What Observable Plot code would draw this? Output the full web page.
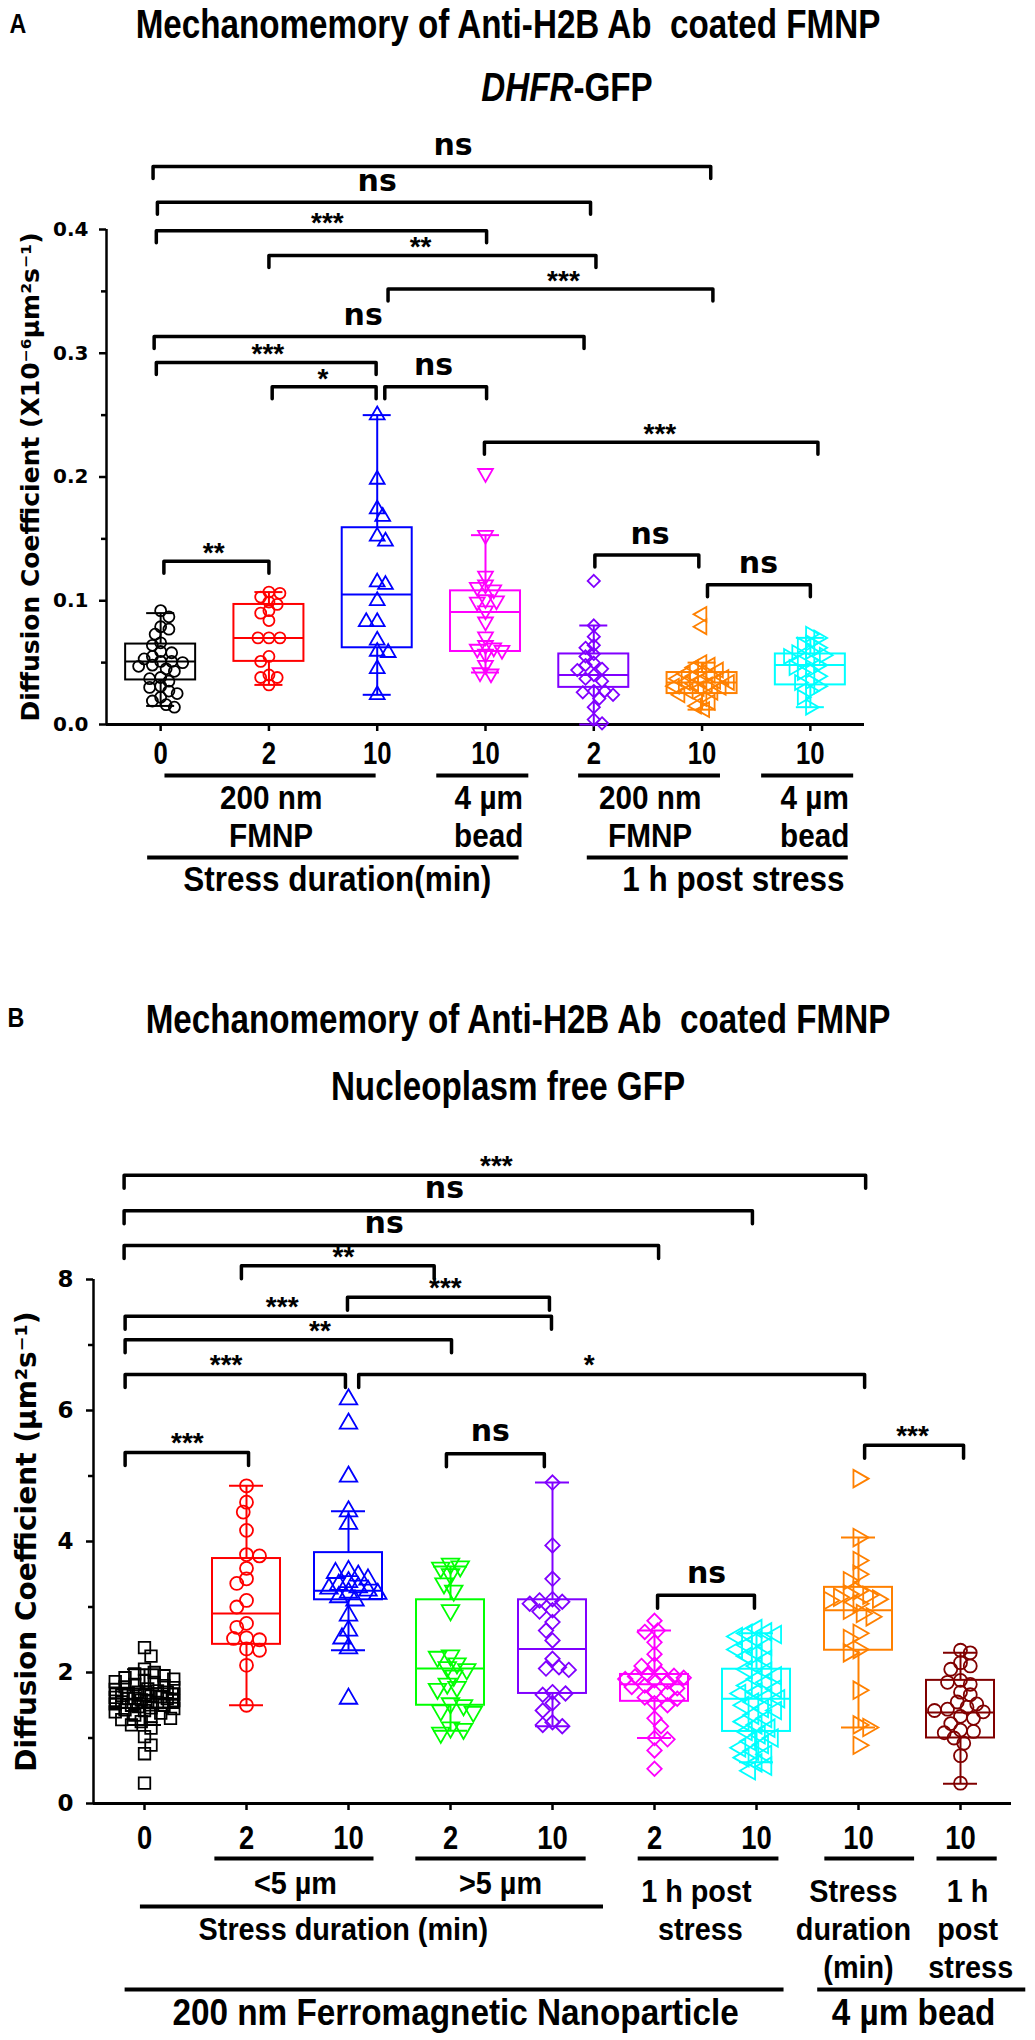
<!DOCTYPE html>
<html><head><meta charset="utf-8">
<script src="https://cdn.jsdelivr.net/npm/d3@7"></script>
<script src="https://cdn.jsdelivr.net/npm/@observablehq/plot@0.6"></script>
<style>
body{margin:0;background:#fff;}
#page{position:relative;width:1035px;height:2040px;overflow:hidden;font-family:"Liberation Sans",Arial,sans-serif;font-weight:bold;color:#000;}
.t{position:absolute;white-space:nowrap;line-height:1;transform:translate(-50%,-50%) scaleX(0.83);}
.panel{position:absolute;left:0;}
.panel svg{display:block;}
</style></head><body><div id="page"></div>
<script>
// ---------------- Panel A data ----------------
const catsA = ["0","2","10","10","2","10","10"];
const colorsA = ["#000000","#ff0000","#0000ff","#ff00ff","#8000ff","#ff8000","#00ffff"];
const symbolsA = ["circle","circle","triangle","triangle","diamond2","triangle","triangle"];
const rotateA = [0,0,0,180,0,-90,90];
const pointsA = [
  [0.092,0.087,0.079,0.077,0.073,0.066,0.064,0.059,0.058,0.055,0.053,0.051,0.051,0.050,0.048,0.047,0.045,0.043,0.038,0.037,0.035,0.031,0.030,0.027,0.025,0.022,0.019,0.016,0.014],
  [0.107,0.106,0.103,0.099,0.097,0.092,0.090,0.084,0.070,0.070,0.070,0.055,0.051,0.040,0.038,0.038,0.032],
  [0.250,0.198,0.174,0.168,0.152,0.148,0.115,0.113,0.100,0.083,0.083,0.068,0.059,0.058,0.045,0.024],
  [0.203,0.153,0.120,0.113,0.111,0.109,0.101,0.100,0.099,0.092,0.083,0.071,0.064,0.062,0.061,0.060,0.057,0.048,0.042,0.041],
  [0.116,0.080,0.071,0.064,0.062,0.057,0.055,0.050,0.048,0.045,0.044,0.040,0.037,0.035,0.027,0.027,0.026,0.024,0.021,0.014,0.004,0.001],
  [0.089,0.079,0.050,0.048,0.046,0.044,0.042,0.041,0.040,0.039,0.038,0.037,0.036,0.035,0.034,0.034,0.033,0.032,0.031,0.030,0.029,0.027,0.026,0.024,0.021,0.018,0.015,0.012],
  [0.073,0.070,0.066,0.064,0.062,0.059,0.058,0.056,0.055,0.052,0.050,0.048,0.046,0.044,0.042,0.039,0.035,0.034,0.031,0.027,0.022,0.014]
];
const q1A  = [0.036,0.051,0.062,0.059,0.030,0.025,0.032];
const medA = [0.051,0.070,0.105,0.091,0.040,0.034,0.048];
const q3A  = [0.065,0.097,0.159,0.108,0.057,0.042,0.057];
const loA  = [0.015,0.032,0.024,0.042,0.000,0.012,0.014];
const hiA  = [0.090,0.107,0.250,0.153,0.080,0.050,0.070];
const yTicksA = [0,0.1,0.2,0.3,0.4];
const yMinorA = [0.05,0.15,0.25,0.35];
const bracketsA = [
  {x1:-0.07,x2:5.08,y:0.451,label:"ns",lx:2.70},
  {x1:-0.03,x2:3.97,y:0.422,label:"ns",lx:2.00},
  {x1:-0.04,x2:3.01,y:0.399,label:"***",lx:1.54},
  {x1:1.00,x2:4.02,y:0.379,label:"**",lx:2.40},
  {x1:2.10,x2:5.10,y:0.352,label:"***",lx:3.72},
  {x1:-0.06,x2:3.91,y:0.3135,label:"ns",lx:1.87},
  {x1:-0.04,x2:1.99,y:0.2925,label:"***",lx:0.99},
  {x1:1.03,x2:1.99,y:0.273,label:"*",lx:1.50},
  {x1:2.07,x2:3.01,y:0.273,label:"ns",lx:2.52},
  {x1:2.99,x2:6.07,y:0.228,label:"***",lx:4.61},
  {x1:0.03,x2:1.00,y:0.132,label:"**",lx:0.49},
  {x1:4.01,x2:4.97,y:0.137,label:"ns",lx:4.52},
  {x1:5.05,x2:6.00,y:0.113,label:"ns",lx:5.52}
];
const groupLinesA = [
  {x1:0.04,x2:1.99,row:0},{x1:2.55,x2:3.40,row:0},{x1:3.86,x2:5.17,row:0},{x1:5.55,x2:6.40,row:0},
  {x1:-0.12,x2:3.31,row:1},{x1:3.94,x2:6.35,row:1}
];
const groupTextsA = [
  {x:1.02,row:0,text:"200 nm"},{x:1.02,row:1,text:"FMNP"},
  {x:3.03,row:0,text:"4 µm"},{x:3.03,row:1,text:"bead"},
  {x:4.52,row:0,text:"200 nm"},{x:4.52,row:1,text:"FMNP"},
  {x:6.04,row:0,text:"4 µm"},{x:6.04,row:1,text:"bead"},
  {x:1.63,row:2,text:"Stress duration(min)"},{x:5.29,row:2,text:"1 h post stress"}
];

// ---------------- Panel B data ----------------
const catsB = ["0","2","10","2","10","2","10","10","10"];
const colorsB = ["#000000","#ff0000","#0000ff","#00ff00","#8000ff","#ff00ff","#00ffff","#ff8000","#800000"];
const symbolsB = ["square","circle","triangle","triangle","diamond2","diamond2","triangle","triangle","circle"];
const rotateB = [0,0,0,180,0,0,-90,90,0];
const pointsB = [
  [2.38,2.25,2.05,2.0,1.98,1.95,1.92,1.9,1.88,1.86,1.85,1.82,1.8,1.78,1.77,1.75,1.74,1.72,1.7,1.7,1.68,1.67,1.66,1.65,1.64,1.63,1.62,1.61,1.6,1.6,1.58,1.57,1.56,1.55,1.54,1.52,1.5,1.5,1.48,1.46,1.45,1.43,1.42,1.4,1.38,1.35,1.33,1.3,1.28,1.25,1.2,1.15,1.02,0.89,0.76,0.31],
  [4.85,4.6,4.45,4.17,3.8,3.78,3.59,3.43,3.36,3.1,3.0,2.75,2.69,2.53,2.52,2.5,2.36,2.34,2.11,1.5],
  [6.17,5.8,4.99,4.46,4.27,3.55,3.52,3.48,3.42,3.38,3.34,3.3,3.28,3.25,3.22,3.2,3.15,3.1,2.87,2.64,2.52,2.37,1.6],
  [3.66,3.62,3.6,3.5,3.36,3.25,2.95,2.26,2.24,2.14,2.08,2.05,1.95,1.83,1.78,1.75,1.53,1.5,1.42,1.4,1.16,1.14,1.08],
  [4.9,3.94,3.43,3.12,3.1,3.08,3.05,2.95,2.93,2.77,2.64,2.49,2.21,2.08,2.06,2.04,1.7,1.68,1.66,1.53,1.42,1.24,1.2,1.18],
  [2.79,2.64,2.62,2.46,2.28,2.12,2.1,1.98,1.96,1.95,1.94,1.92,1.9,1.88,1.86,1.8,1.78,1.76,1.7,1.69,1.62,1.6,1.53,1.5,1.3,1.18,1.0,0.98,0.81,0.53],
  [2.67,2.62,2.6,2.58,2.55,2.5,2.42,2.4,2.35,2.3,2.25,2.2,2.1,2.05,2.02,1.95,1.9,1.85,1.8,1.75,1.7,1.68,1.62,1.6,1.55,1.5,1.45,1.42,1.35,1.3,1.25,1.2,1.15,1.1,1.05,1.0,0.95,0.9,0.85,0.8,0.75,0.7,0.62,0.57,0.5],
  [4.96,4.06,3.71,3.5,3.4,3.25,3.2,3.18,3.15,3.12,3.1,3.05,2.95,2.9,2.85,2.6,2.52,2.35,2.3,1.73,1.2,1.16,0.89],
  [2.34,2.3,2.15,2.1,2.05,1.88,1.85,1.82,1.7,1.66,1.55,1.52,1.47,1.44,1.42,1.4,1.33,1.3,1.22,1.12,1.1,1.08,1.0,0.92,0.73,0.31]
];
const q1B  = [1.45,2.43,3.11,1.50,1.68,1.56,1.10,2.34,1.00];
const medB = [1.60,2.90,3.25,2.06,2.36,1.82,1.60,2.95,1.39];
const q3B  = [1.75,3.74,3.83,3.11,3.11,1.97,2.05,3.30,1.88];
const loB  = [1.20,1.50,2.34,1.11,1.18,1.00,0.63,1.16,0.30];
const hiB  = [2.05,4.85,4.46,3.62,4.90,2.64,2.60,4.06,2.30];
const yTicksB = [0,2,4,6,8];
const yMinorB = [1,3,5,7];
const bracketsB = [
  {x1:-0.20,x2:7.07,y:9.59,label:"***",lx:3.45},
  {x1:-0.20,x2:5.96,y:9.05,label:"ns",lx:2.94},
  {x1:-0.20,x2:5.04,y:8.52,label:"ns",lx:2.35},
  {x1:0.95,x2:2.84,y:8.21,label:"**",lx:1.95},
  {x1:1.99,x2:3.97,y:7.73,label:"***",lx:2.95},
  {x1:-0.19,x2:3.99,y:7.44,label:"***",lx:1.35},
  {x1:-0.19,x2:3.01,y:7.08,label:"**",lx:1.72},
  {x1:-0.19,x2:1.97,y:6.55,label:"***",lx:0.80},
  {x1:2.10,x2:7.06,y:6.55,label:"*",lx:4.36},
  {x1:-0.19,x2:1.02,y:5.36,label:"***",lx:0.42},
  {x1:2.96,x2:3.92,y:5.34,label:"ns",lx:3.39},
  {x1:5.03,x2:5.98,y:3.18,label:"ns",lx:5.51},
  {x1:7.06,x2:8.03,y:5.47,label:"***",lx:7.53}
];
const groupLinesB = [
  {x1:0.69,x2:2.25,row:0},{x1:2.66,x2:4.33,row:0},{x1:4.84,x2:6.22,row:0},{x1:6.67,x2:7.55,row:0},{x1:7.77,x2:8.36,row:0},
  {x1:-0.04,x2:4.50,row:1},
  {x1:-0.19,x2:6.27,row:2},{x1:6.60,x2:8.64,row:2}
];
const groupTextsB = [
  {x:1.48,row:0,text:"<5 µm"},{x:3.49,row:0,text:">5 µm"},
  {x:5.41,row:1,text:"1 h post"},{x:5.45,row:2,text:"stress"},
  {x:6.95,row:1,text:"Stress"},{x:6.95,row:2,text:"duration"},{x:7.0,row:3,text:"(min)"},
  {x:8.07,row:1,text:"1 h"},{x:8.07,row:2,text:"post"},{x:8.1,row:3,text:"stress"},
  {x:1.95,row:2,text:"Stress duration (min)"},
  {x:3.05,row:4,text:"200 nm Ferromagnetic Nanoparticle",big:true},{x:7.54,row:4,text:"4 µm bead",big:true}
];

// ---------------- helpers ----------------
const NARROW = "Liberation Sans";            // tick labels, condensed 0.83
const NARROW2 = "Liberation Sans, sans-serif"; // group labels, condensed 0.90
function swarm(values, ppuX, ppuY, r, maxOff) {
  const placed = [], offs = [];
  values.forEach((v, k) => {
    const py = v * ppuY, minD = r * 1.55;
    let best = 0, bestScore = -Infinity;
    const dir = k % 2 ? 1 : -1;
    for (let s = 0; s <= 40; s++) {
      const off = dir * (s % 2 ? 1 : -1) * Math.ceil(s / 2) * r * 0.5;
      if (Math.abs(off) > maxOff) continue;
      let dmin = Infinity;
      for (const p of placed) dmin = Math.min(dmin, Math.hypot(p.x - off, p.y - py));
      if (dmin >= minD) { best = off; break; }
      if (dmin > bestScore) { bestScore = dmin; best = off; }
    }
    placed.push({x: best, y: py});
    offs.push(best / ppuX);
  });
  return offs;
}

function buildPanel(P) {
  const n = P.cats.length;
  const ppuX = (P.width - P.marginLeft - P.marginRight) / n;
  const height = P.marginTop + P.yMax * P.ppuY + P.marginBottom;
  const marks = [];
  const bw = P.boxHalf / ppuX, cw = P.capHalf / ppuX;
  const yTop = d3.max(P.yTicks);
  marks.push(Plot.ruleX([-0.5], {y1: 0, y2: yTop, strokeWidth: 2.5}));
  marks.push(Plot.ruleY([0], {x1: -0.5, x2: n - 0.5, strokeWidth: 3}));
  marks.push(Plot.axisY(P.yTicks, {tickFormat: P.yFmt, tickSize: 7, tickPadding: P.yPad, fontSize: P.yFont, fontFamily: "DejaVu Sans", fontWeight: "bold", strokeWidth: 2.5, label: null}));
  marks.push(Plot.axisY(P.yMinor, {tickFormat: () => "", tickSize: 5, strokeWidth: 2.5, label: null}));
  marks.push(Plot.axisX(d3.range(n), {tickFormat: i => P.cats[i], tickSize: 7, tickPadding: P.xPad, fontSize: P.xFont, fontFamily: NARROW, fontWeight: "bold", strokeWidth: 2.5, label: null}));
  marks.push(Plot.text([P.yLabel], {x: () => -0.5, y: () => (P.yTicks[0] + yTop) / 2, text: d => d, rotate: -90, dx: P.yLabelDx, fontSize: P.yLabelFont, fontFamily: "DejaVu Sans", fontWeight: "bold"}));
  P.cats.forEach((c, i) => {
    const col = P.colors[i];
    const box = [{i, q1: P.q1[i], med: P.med[i], q3: P.q3[i], lo: P.lo[i], hi: P.hi[i]}];
    marks.push(Plot.ruleX(box, {x: "i", y1: "q3", y2: "hi", stroke: col, strokeWidth: 2}));
    marks.push(Plot.ruleX(box, {x: "i", y1: "lo", y2: "q1", stroke: col, strokeWidth: 2}));
    marks.push(Plot.ruleY(box, {y: "hi", x1: d => d.i - cw, x2: d => d.i + cw, stroke: col, strokeWidth: 2}));
    marks.push(Plot.ruleY(box, {y: "lo", x1: d => d.i - cw, x2: d => d.i + cw, stroke: col, strokeWidth: 2}));
    marks.push(Plot.rect(box, {x1: d => d.i - bw, x2: d => d.i + bw, y1: "q1", y2: "q3", fill: "none", stroke: col, strokeWidth: 2}));
    marks.push(Plot.ruleY(box, {y: "med", x1: d => d.i - bw, x2: d => d.i + bw, stroke: col, strokeWidth: 2}));
    const vals = P.points[i];
    const offs = swarm(vals, ppuX, P.ppuY, P.r, P.maxOff);
    const pts = vals.map((v, k) => ({x: i + offs[k], y: v}));
    marks.push(Plot.dot(pts, {x: "x", y: "y", r: P.r, symbol: P.symbols[i], rotate: P.rotates[i], stroke: col, fill: "none", strokeWidth: 1.8}));
  });
  const drop = P.drop / P.ppuY;
  const path = [];
  P.brackets.forEach((b, k) => {
    path.push({id: k, x: b.x1, y: b.y - drop}, {id: k, x: b.x1, y: b.y}, {id: k, x: b.x2, y: b.y}, {id: k, x: b.x2, y: b.y - drop});
  });
  marks.push(Plot.line(path, {x: "x", y: "y", z: "id", stroke: "black", strokeWidth: 3.5, strokeLinecap: "round", strokeLinejoin: "round"}));
  marks.push(Plot.text(P.brackets.filter(b => b.label === "ns"), {x: "lx", y: "y", text: "label", dy: P.nsDy, fontSize: P.nsFont, fontFamily: "DejaVu Sans", fontWeight: "bold"}));
  marks.push(Plot.text(P.brackets.filter(b => b.label !== "ns"), {x: "lx", y: "y", text: "label", lineAnchor: "top", dy: P.starDy, fontSize: P.starFont, fontWeight: "bold"}));
  P.groupLines.forEach(g => {
    marks.push(Plot.ruleY([g], {y: () => 0, x1: "x1", x2: "x2", dy: P.lineDy[g.row], strokeWidth: 4}));
  });
  P.groupTexts.forEach(g => {
    marks.push(Plot.text([g], {x: "x", y: () => 0, text: "text", dy: P.textDy[g.row], fontSize: g.big ? P.bigFont : (g.row === 2 && P.row2Font ? P.row2Font : P.groupFont), fontFamily: NARROW2, fontWeight: "bold"}));
  });
  const svg = Plot.plot({
    width: P.width, height,
    marginTop: P.marginTop, marginBottom: P.marginBottom, marginLeft: P.marginLeft, marginRight: P.marginRight,
    x: {domain: [-0.5, n - 0.5]},
    y: {domain: [0, P.yMax]},
    style: {fontFamily: "Liberation Sans, Arial, sans-serif", background: "transparent", color: "black"},
    marks
  });
  svg.style.fontWeight = "bold";
  return svg;
}

// condense the narrow-looking texts (after the svg is in the document so lengths can be measured)
function condense(svg) {
  [[NARROW, 0.83], [NARROW2, 0.90]].forEach(([fam, k]) => {
    svg.querySelectorAll('g[font-family="' + fam + '"] text').forEach(t => {
      const w = t.getComputedTextLength();
      if (w > 0) {
        t.setAttribute("textLength", (w * k).toFixed(1));
        t.setAttribute("lengthAdjust", "spacingAndGlyphs");
      }
    });
  });
}

const page = document.getElementById("page");
function addText(html, x, y, size) {
  const d = document.createElement("div");
  d.className = "t";
  d.style.left = x + "px"; d.style.top = y + "px"; d.style.fontSize = size + "px";
  d.innerHTML = html;
  page.appendChild(d);
}
addText("A", 18, 24, 28);
addText("Mechanomemory of Anti-H2B Ab&nbsp; coated FMNP", 508, 24, 40);
addText("<i>DHFR</i>-GFP", 567, 87, 40);
addText("B", 16, 1018, 28);
addText("Mechanomemory of Anti-H2B Ab&nbsp; coated FMNP", 518, 1019, 40);
addText("Nucleoplasm free GFP", 508, 1086, 40);

const divA = document.createElement("div"); divA.className = "panel"; divA.style.top = "100px";
const svgA = buildPanel({
  cats: catsA, colors: colorsA, symbols: symbolsA, rotates: rotateA, points: pointsA,
  q1: q1A, med: medA, q3: q3A, lo: loA, hi: hiA, yTicks: yTicksA, yMinor: yMinorA, yFmt: d3.format(".1f"),
  brackets: bracketsA, groupLines: groupLinesA, groupTexts: groupTextsA,
  width: 1035, marginLeft: 106, marginRight: 171, marginTop: 30, marginBottom: 196,
  yMax: 0.48, ppuY: 1237.5, boxHalf: 35, capHalf: 14, r: 5.5, maxOff: 30, drop: 12,
  yPad: 11, yFont: 20, xPad: 10, xFont: 31,
  yLabel: "Diffusion Coefficient (X10⁻⁶µm²s⁻¹)", yLabelDx: -76, yLabelFont: 25,
  nsDy: -21, nsFont: 30, starDy: -19, starFont: 28,
  lineDy: [51, 133], textDy: [74, 112, 155], groupFont: 33, row2Font: 35, bigFont: 35
});
divA.appendChild(svgA);
page.appendChild(divA);
condense(svgA);

const divB = document.createElement("div"); divB.className = "panel"; divB.style.top = "1100px";
const svgB = buildPanel({
  cats: catsB, colors: colorsB, symbols: symbolsB, rotates: rotateB, points: pointsB,
  q1: q1B, med: medB, q3: q3B, lo: loB, hi: hiB, yTicks: yTicksB, yMinor: yMinorB, yFmt: d3.format("d"),
  brackets: bracketsB, groupLines: groupLinesB, groupTexts: groupTextsB,
  width: 1035, marginLeft: 93, marginRight: 24, marginTop: 28.35, marginBottom: 237,
  yMax: 10.3, ppuY: 65.5, boxHalf: 34, capHalf: 17, r: 6.5, maxOff: 30, drop: 13,
  yPad: 13, yFont: 23, xPad: 15, xFont: 33,
  yLabel: "Diffusion Coefficient (µm²s⁻¹)", yLabelDx: -66, yLabelFont: 28,
  nsDy: -22, nsFont: 30, starDy: -20, starFont: 28,
  lineDy: [55, 103, 186], textDy: [80, 88, 126, 164, 210], groupFont: 32, row2Font: null, bigFont: 37
});
divB.appendChild(svgB);
page.appendChild(divB);
condense(svgB);
</script></body></html>
